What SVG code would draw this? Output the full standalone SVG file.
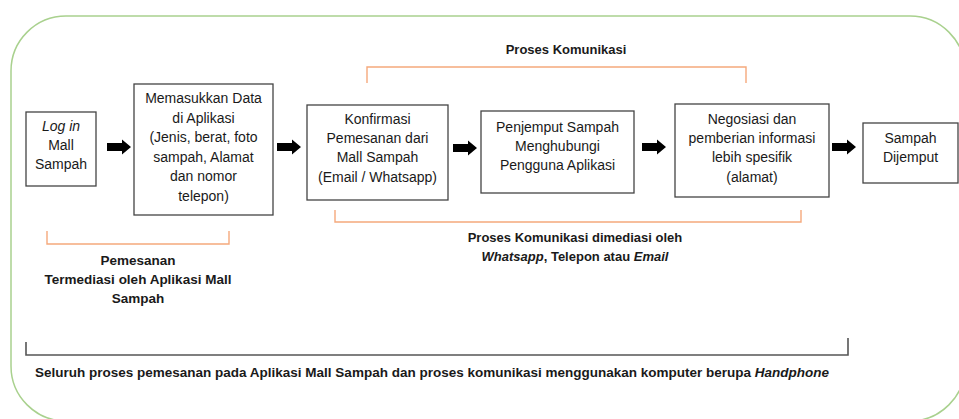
<svg xmlns="http://www.w3.org/2000/svg" width="959" height="419" viewBox="0 0 959 419">
<style>
.box{fill:#fff;stroke:#444;stroke-width:1.3}
.t{font-family:"Liberation Sans",Arial,sans-serif;font-size:14px;fill:#1a1a1a;text-anchor:middle}
.b{font-family:"Liberation Sans",Arial,sans-serif;font-size:13px;font-weight:bold;fill:#1a1a1a;text-anchor:middle}
.b2{font-size:13.5px}
.br{fill:none;stroke:#F5A97C;stroke-width:1.4}
.bk{fill:none;stroke:#555;stroke-width:1.6}
.arr{fill:#000}
</style>
<defs>
<path id="ar" class="arr" d="M0,-4 H15 V-7.5 L24,0 L15,7.5 V4 H0 Z"/>
</defs>
<rect width="959" height="419" fill="#fff"/>
<rect x="11" y="16" width="954" height="405" rx="55" ry="55" fill="none" stroke="#A9D18E" stroke-width="1.5"/>

<g id="connectors">
<use href="#ar" x="107" y="147"/>
<use href="#ar" x="277" y="147"/>
<use href="#ar" x="453" y="148"/>
<use href="#ar" x="642" y="147"/>
<use href="#ar" x="832" y="147"/>
<path class="br" d="M367,83 V67 H746 V83"/>
<path class="br" d="M335,210 V222 H801 V210"/>
<path class="br" d="M47,231 V244 H229 V231"/>
<path class="bk" d="M26,342 V355 H848 V338"/>
</g>

<g id="n1">
<rect class="box" x="26" y="112" width="70" height="74"/>
<text class="t" x="61" y="131" font-style="italic">Log in</text>
<text class="t" x="61" y="150">Mall</text>
<text class="t" x="61" y="169">Sampah</text>
</g>

<g id="n2">
<rect class="box" x="134" y="84" width="139" height="131"/>
<text class="t" x="203.5" y="103">Memasukkan Data</text>
<text class="t" x="203.5" y="122.5">di Aplikasi</text>
<text class="t" x="203.5" y="142">(Jenis, berat, foto</text>
<text class="t" x="203.5" y="161.5">sampah, Alamat</text>
<text class="t" x="203.5" y="181">dan nomor</text>
<text class="t" x="203.5" y="200.5">telepon)</text>
</g>

<g id="n3">
<rect class="box" x="307" y="105" width="141" height="95"/>
<text class="t" x="377.5" y="124">Konfirmasi</text>
<text class="t" x="377.5" y="143">Pemesanan dari</text>
<text class="t" x="377.5" y="162">Mall Sampah</text>
<text class="t" x="377.5" y="182">(Email / Whatsapp)</text>
</g>

<g id="n4">
<rect class="box" x="481" y="111" width="153" height="82"/>
<text class="t" x="557.5" y="132">Penjemput Sampah</text>
<text class="t" x="557.5" y="151">Menghubungi</text>
<text class="t" x="557.5" y="170">Pengguna Aplikasi</text>
</g>

<g id="n5">
<rect class="box" x="675" y="104" width="154" height="93"/>
<text class="t" x="752" y="124">Negosiasi dan</text>
<text class="t" x="752" y="143">pemberian informasi</text>
<text class="t" x="752" y="162">lebih spesifik</text>
<text class="t" x="752" y="182">(alamat)</text>
</g>

<g id="n6">
<rect class="box" x="863" y="123" width="95" height="60"/>
<text class="t" x="910.5" y="143">Sampah</text>
<text class="t" x="910.5" y="162">Dijemput</text>
</g>

<g id="labels">
<text class="b" x="566" y="54">Proses Komunikasi</text>
<text class="b" x="575" y="242">Proses Komunikasi dimediasi oleh</text>
<text class="b" x="575" y="261"><tspan font-style="italic">Whatsapp</tspan>, Telepon atau <tspan font-style="italic">Email</tspan></text>
<text class="b b2" x="138" y="265">Pemesanan</text>
<text class="b b2" x="138" y="284">Termediasi oleh Aplikasi Mall</text>
<text class="b b2" x="138" y="303">Sampah</text>
<text class="b b2" x="432" y="377">Seluruh proses pemesanan pada Aplikasi Mall Sampah dan proses komunikasi menggunakan komputer berupa <tspan font-style="italic">Handphone</tspan></text>
</g>
</svg>
